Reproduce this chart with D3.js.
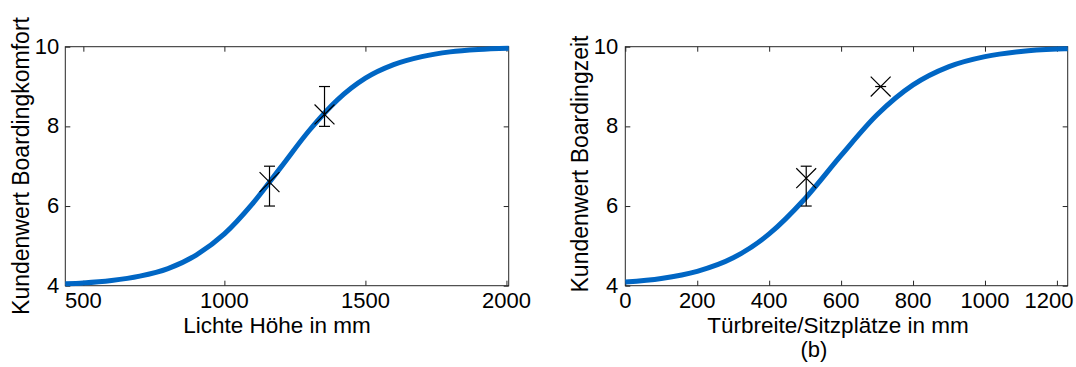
<!DOCTYPE html>
<html>
<head>
<meta charset="utf-8">
<script src="https://cdn.jsdelivr.net/npm/d3@7"></script>
<style>
  body { margin: 0; background: #fff; }
  text { font-family: "Liberation Sans", Arial, sans-serif; fill: #000; }
</style>
</head>
<body>
<script>
    // left panel: Lichte Höhe -> Kundenwert Boardingkomfort
    var hoeheX = [436, 500, 600, 700, 800, 900, 1000, 1100, 1200, 1300, 1400, 1500, 1600, 1700, 1800, 1900, 2008];
    var komfortY = [4.05, 4.07, 4.13, 4.24, 4.43, 4.77, 5.30, 6.06, 6.97, 7.89, 8.66, 9.21, 9.55, 9.75, 9.87, 9.93, 9.96];
    var hoeheMessX = [1160, 1355];
    var komfortMessY = [6.6, 8.3];
    var komfortLo = [6.0, 8.0];
    var komfortHi = [7.0, 9.0];
    var hoeheTicks = [500, 1000, 1500, 2000];

    // right panel: Türbreite/Sitzplätze -> Kundenwert Boardingzeit
    var breiteX = [0, 100, 200, 300, 400, 500, 600, 700, 800, 900, 1000, 1100, 1200, 1230];
    var zeitY = [4.09, 4.18, 4.36, 4.70, 5.30, 6.19, 7.27, 8.29, 9.04, 9.50, 9.75, 9.88, 9.94, 9.95];
    var breiteMessX = [503, 710];
    var zeitMessY = [6.7, 9.0];
    var zeitLo = [6.0, 9.0];
    var zeitHi = [7.0, 9.0];
    var breiteTicks = [0, 200, 400, 600, 800, 1000, 1200];

    var valueTicks = [4, 6, 8, 10];

    var svg = d3.select('body').append('svg')
        .attr('width', 1076)
        .attr('height', 367);

    function panel (opt) {
        var x = d3.scaleLinear().domain(opt.xDomain).range([opt.left, opt.right]);
        var y = d3.scaleLinear().domain([4, 10]).range([285.7, 46.7]);
        var g = svg.append('g');
        var tl = 5;

        // box with inward ticks on all four sides
        g.append('g').attr('transform', 'translate(0,285.7)')
            .call(d3.axisBottom(x).tickValues(opt.xTicks).tickSize(-tl).tickFormat(''));
        g.append('g').attr('transform', 'translate(0,46.7)')
            .call(d3.axisTop(x).tickValues(opt.xTicks).tickSize(-tl).tickFormat(''));
        g.append('g').attr('transform', 'translate(' + opt.left + ',0)')
            .call(d3.axisLeft(y).tickValues(valueTicks).tickSize(-tl).tickFormat(''));
        g.append('g').attr('transform', 'translate(' + opt.right + ',0)')
            .call(d3.axisRight(y).tickValues(valueTicks).tickSize(-tl).tickFormat(''));
        g.selectAll('.domain, .tick line')
            .attr('stroke', '#262626')
            .attr('stroke-width', 1);
        g.selectAll('.domain').attr('d', null);
        g.append('rect')
            .attr('x', opt.left).attr('y', 46.7)
            .attr('width', opt.right - opt.left).attr('height', 285.7 - 46.7)
            .attr('fill', 'none').attr('stroke', '#262626').attr('stroke-width', 1);

        // tick labels (last one pulled inside the page edge if needed)
        g.selectAll('.xl').data(opt.xTicks).enter().append('text')
            .attr('x', function (d) { return Math.min(x(d), opt.maxLabelX); })
            .attr('y', 308)
            .attr('text-anchor', 'middle')
            .style('font-size', '22px')
            .text(function (d) { return d; });
        g.selectAll('.yl').data(valueTicks).enter().append('text')
            .attr('x', opt.left - opt.yGap)
            .attr('y', function (d) { return y(d) + 7; })
            .attr('text-anchor', 'end')
            .style('font-size', '22px')
            .text(function (d) { return d; });

        // fitted curve
        var pts = opt.curveX.map(function (v, i) { return [v, opt.curveY[i]]; });
        g.append('path')
            .datum(pts)
            .attr('fill', 'none')
            .attr('stroke', '#0066c4')
            .attr('stroke-width', 5)
            .attr('d', d3.line()
                .x(function (d) { return x(d[0]); })
                .y(function (d) { return y(d[1]); })
                .curve(d3.curveMonotoneX));

        // measured points with error bars
        opt.mx.forEach(function (v, i) {
            var px = x(v), py = y(opt.my[i]);
            var lo = y(opt.lo[i]), hi = y(opt.hi[i]);
            if (lo !== hi) {
                g.append('line').attr('x1', px).attr('x2', px).attr('y1', lo).attr('y2', hi)
                    .attr('stroke', '#000').attr('stroke-width', 1.2);
                [lo, hi].forEach(function (c) {
                    g.append('line').attr('x1', px - 5.5).attr('x2', px + 5.5).attr('y1', c).attr('y2', c)
                        .attr('stroke', '#000').attr('stroke-width', 1.2);
                });
            } else {
                g.append('line').attr('x1', px - 5.5).attr('x2', px + 5.5).attr('y1', py).attr('y2', py)
                    .attr('stroke', '#000').attr('stroke-width', 1.2);
            }
            g.append('path')
                .attr('d', d3.symbol().type(d3.symbolX).size(260)())
                .attr('transform', 'translate(' + px + ',' + py + ')')
                .attr('fill', 'none').attr('stroke', '#000').attr('stroke-width', 1.2);
        });

        // axis titles
        g.append('text')
            .attr('x', opt.xLabelX).attr('y', 333)
            .attr('text-anchor', 'middle')
            .style('font-size', '22.5px')
            .text(opt.xLabel);
        g.append('text')
            .attr('transform', 'translate(' + opt.yLabelX + ',' + opt.yLabelY + ') rotate(-90)')
            .attr('text-anchor', 'middle')
            .style('font-size', '23px')
            .text(opt.yLabel);
    }

    panel({
        left: 65.3, right: 508.7, xDomain: [436, 2008], xTicks: hoeheTicks, maxLabelX: 1000,
        curveX: hoeheX, curveY: komfortY,
        mx: hoeheMessX, my: komfortMessY, lo: komfortLo, hi: komfortHi,
        xLabel: 'Lichte Höhe in mm', xLabelX: 277,
        yLabel: 'Kundenwert Boardingkomfort', yLabelX: 29, yLabelY: 166, yGap: 6
    });

    panel({
        left: 625.3, right: 1067.7, xDomain: [0, 1230], xTicks: breiteTicks, maxLabelX: 1049,
        curveX: breiteX, curveY: zeitY,
        mx: breiteMessX, my: zeitMessY, lo: zeitLo, hi: zeitHi,
        xLabel: 'Türbreite/Sitzplätze in mm', xLabelX: 838,
        yLabel: 'Kundenwert Boardingzeit', yLabelX: 588, yLabelY: 164, yGap: 7
    });

    svg.append('text')
        .attr('x', 814).attr('y', 357)
        .attr('text-anchor', 'middle')
        .style('font-size', '22px')
        .text('(b)');
</script>
</body>
</html>
